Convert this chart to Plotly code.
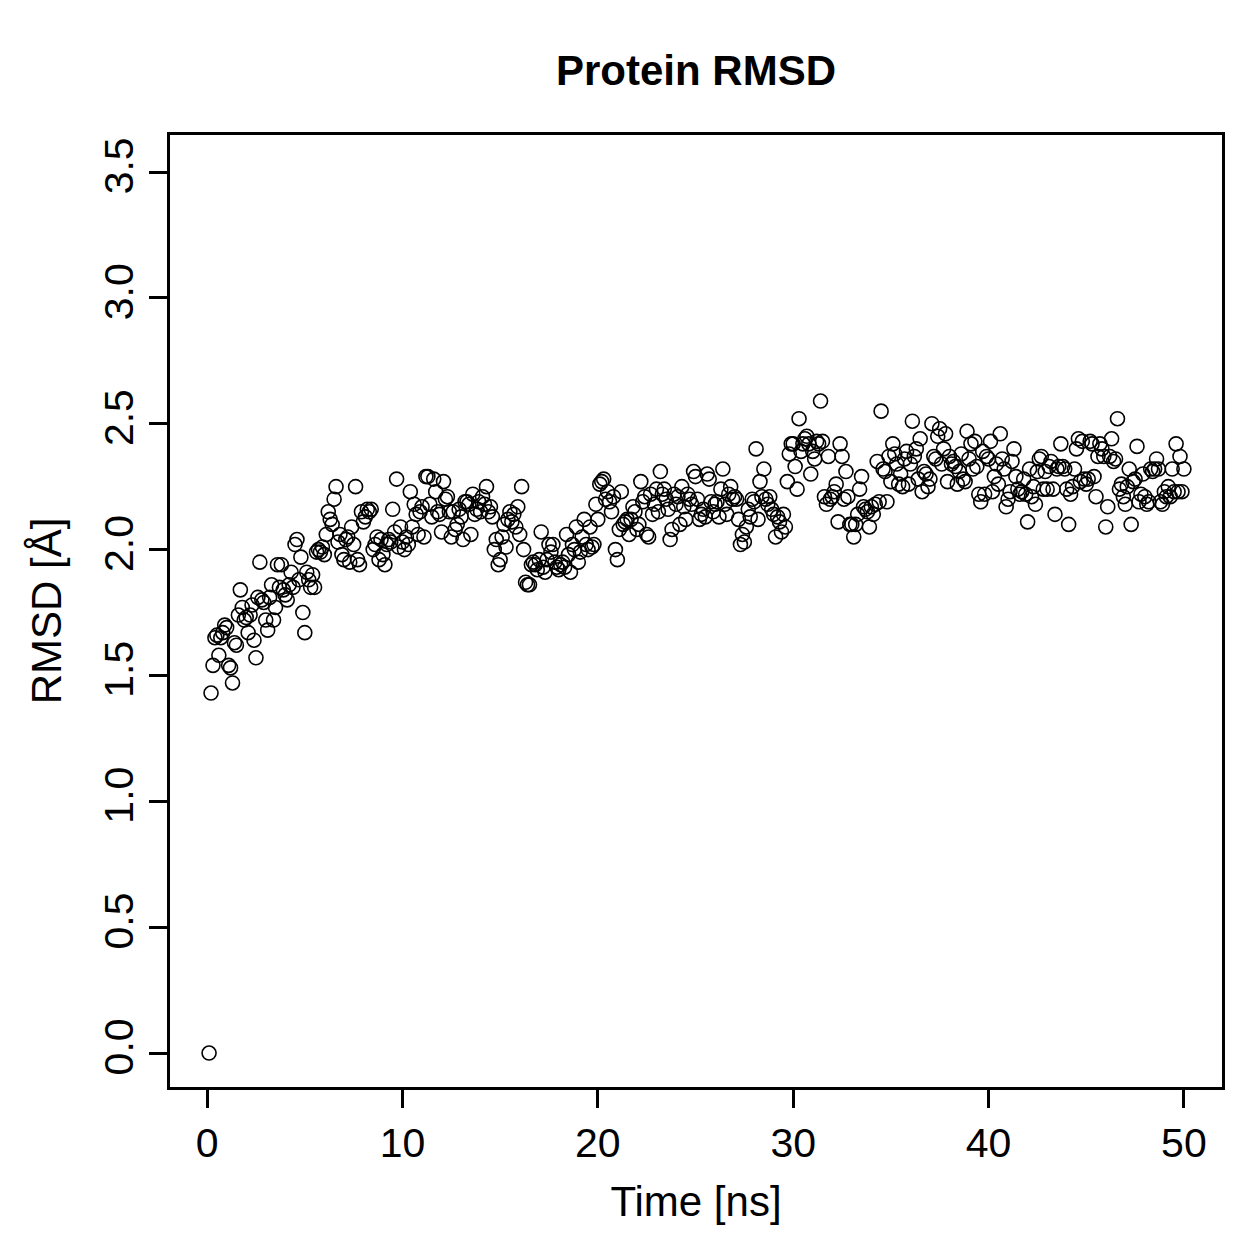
import plotly.graph_objects as go

# RMSD values read per ns block (10 samples per ns, 0.1 ns spacing)
rmsd = [
    0.00, 1.43, 1.54, 1.65, 1.66, 1.58, 1.65, 1.67, 1.70, 1.69,
    1.54, 1.53, 1.47, 1.63, 1.62, 1.74, 1.84, 1.77, 1.72, 1.73,
    1.67, 1.74, 1.78, 1.64, 1.57, 1.81, 1.95, 1.80, 1.79, 1.72,
    1.68, 1.81, 1.86, 1.72, 1.77, 1.94, 1.85, 1.94, 1.84, 1.82,
    1.80, 1.86, 1.91, 1.85, 2.02, 2.04, 1.88, 1.97, 1.75, 1.67,
    1.91, 1.88, 1.85, 1.90, 1.85, 1.99, 2.00, 1.99, 2.01, 1.98,
    2.06, 2.15, 2.12, 2.10, 2.20, 2.25, 2.03, 2.06, 1.98, 1.96,
    2.04, 2.05, 1.95, 2.09, 2.02, 2.25, 1.96, 1.94, 2.15, 2.11,
    2.13, 2.16, 2.15, 2.16, 2.00, 2.02, 2.05, 1.96, 2.04, 1.98,
    1.94, 2.02, 2.04, 2.03, 2.16, 2.07, 2.28, 2.01, 2.09, 2.03,
    2.00, 2.05, 2.02, 2.23, 2.09, 2.18, 2.14, 2.06, 2.15, 2.17,
    2.05, 2.29, 2.29, 2.18, 2.13, 2.28, 2.23, 2.15, 2.14, 2.07,
    2.27, 2.20, 2.21, 2.15, 2.05, 2.15, 2.08, 2.10, 2.16, 2.13,
    2.04, 2.19, 2.19, 2.18, 2.06, 2.22, 2.14, 2.16, 2.19, 2.15,
    2.21, 2.18, 2.25, 2.15, 2.17, 2.13, 2.00, 2.04, 1.94, 1.96,
    2.05, 2.10, 2.01, 2.12, 2.15, 2.11, 2.14, 2.09, 2.17, 2.06,
    2.25, 2.00, 1.87, 1.86, 1.86, 1.94, 1.95, 1.94, 1.92, 1.96,
    2.07, 1.93, 1.91, 1.96, 2.02, 1.99, 2.02, 1.95, 1.93, 1.92,
    1.94, 1.95, 1.93, 2.06, 1.98, 1.91, 2.02, 2.00, 2.09, 1.95,
    1.99, 2.05, 2.12, 2.02, 2.00, 2.09, 2.01, 2.02, 2.18, 2.12,
    2.26, 2.27, 2.28, 2.20, 2.23, 2.19, 2.15, 2.21, 2.00, 1.96,
    2.08, 2.23, 2.10, 2.11, 2.12, 2.06, 2.12, 2.17, 2.15, 2.08,
    2.10, 2.27, 2.19, 2.21, 2.06, 2.05, 2.22, 2.14, 2.18, 2.24,
    2.15, 2.31, 2.22, 2.24, 2.20, 2.16, 2.04, 2.08, 2.22, 2.18,
    2.21, 2.10, 2.25, 2.17, 2.12, 2.22, 2.20, 2.18, 2.31, 2.29,
    2.20, 2.12, 2.14, 2.16, 2.13, 2.30, 2.28, 2.19, 2.15, 2.18,
    2.19, 2.13, 2.24, 2.32, 2.18, 2.14, 2.22, 2.25, 2.20, 2.21,
    2.20, 2.12, 2.02, 2.06, 2.03, 2.09, 2.16, 2.13, 2.20, 2.19,
    2.40, 2.12, 2.27, 2.21, 2.32, 2.20, 2.18, 2.21, 2.16, 2.14,
    2.05, 2.13, 2.11, 2.07, 2.14, 2.09, 2.27, 2.38, 2.42, 2.42,
    2.33, 2.24, 2.52, 2.39, 2.42, 2.44, 2.45, 2.42, 2.30, 2.39,
    2.36, 2.43, 2.42, 2.59, 2.43, 2.21, 2.18, 2.37, 2.20, 2.21,
    2.23, 2.26, 2.11, 2.42, 2.37, 2.20, 2.31, 2.21, 2.10, 2.10,
    2.05, 2.10, 2.14, 2.24, 2.29, 2.17, 2.16, 2.15, 2.09, 2.17,
    2.14, 2.18, 2.35, 2.19, 2.55, 2.32, 2.31, 2.19, 2.37, 2.27,
    2.42, 2.38, 2.34, 2.26, 2.30, 2.25, 2.36, 2.39, 2.26, 2.34,
    2.51, 2.37, 2.40, 2.28, 2.44, 2.23, 2.31, 2.30, 2.25, 2.28,
    2.50, 2.37, 2.36, 2.45, 2.48, 2.34, 2.40, 2.46, 2.27, 2.37,
    2.34, 2.35, 2.33, 2.26, 2.31, 2.38, 2.28, 2.27, 2.47, 2.36,
    2.42, 2.32, 2.43, 2.33, 2.22, 2.19, 2.39, 2.22, 2.37, 2.36,
    2.43, 2.23, 2.29, 2.34, 2.26, 2.46, 2.36, 2.32, 2.17, 2.20,
    2.23, 2.35, 2.40, 2.29, 2.24, 2.22, 2.23, 2.28, 2.22, 2.11,
    2.32, 2.21, 2.25, 2.18, 2.31, 2.36, 2.37, 2.24, 2.31, 2.24,
    2.33, 2.35, 2.24, 2.14, 2.32, 2.33, 2.42, 2.33, 2.32, 2.24,
    2.10, 2.22, 2.25, 2.32, 2.40, 2.44, 2.27, 2.43, 2.28, 2.26,
    2.28, 2.43, 2.42, 2.29, 2.21, 2.37, 2.42, 2.40, 2.37, 2.09,
    2.17, 2.37, 2.44, 2.35, 2.36, 2.52, 2.24, 2.26, 2.21, 2.18,
    2.25, 2.32, 2.10, 2.27, 2.28, 2.41, 2.19, 2.22, 2.30, 2.21,
    2.18, 2.19, 2.32, 2.31, 2.32, 2.36, 2.32, 2.19, 2.18, 2.23,
    2.21, 2.25, 2.21, 2.32, 2.23, 2.42, 2.23, 2.37, 2.23, 2.32,
]
time_step_ns = 0.1
time_ns = [round((i + 1) * time_step_ns, 1) for i in range(len(rmsd))]

x_ticks = [0, 10, 20, 30, 40, 50]
y_ticks = [0.0, 0.5, 1.0, 1.5, 2.0, 2.5, 3.0, 3.5]
y_tick_labels = ["0.0", "0.5", "1.0", "1.5", "2.0", "2.5", "3.0", "3.5"]

FONT = "Liberation Sans, Arial, Helvetica, sans-serif"

fig = go.Figure(go.Scatter(
    x=time_ns, y=rmsd, mode="markers",
    marker=dict(symbol="circle-open", size=14, color="black",
                line=dict(color="black", width=1.6)),
    showlegend=False,
))

fig.update_layout(
    width=1259, height=1259,
    margin=dict(l=170, r=37, t=135, b=172),
    paper_bgcolor="white", plot_bgcolor="white",
    font=dict(family=FONT, size=42, color="black"),
    title=dict(text="<b>Protein RMSD</b>", x=0.5, xanchor="center",
               xref="paper", y=1 - 70 / 1259, yanchor="middle",
               font=dict(family=FONT, size=42, color="black")),
)
fig.update_xaxes(
    range=[-1.9, 51.95], tickvals=x_ticks, ticktext=[str(v) for v in x_ticks],
    showgrid=False, zeroline=False, showline=True, mirror=True,
    linecolor="black", linewidth=2.5,
    ticks="outside", ticklen=18, tickwidth=2.5, tickcolor="black",
    tickfont=dict(size=41),
    title=dict(text="Time [ns]", font=dict(size=42), standoff=22),
)
fig.update_yaxes(
    range=[-0.135, 3.647], tickvals=y_ticks, ticktext=y_tick_labels,
    tickangle=-90,
    showgrid=False, zeroline=False, showline=True, mirror=True,
    linecolor="black", linewidth=2.5,
    ticks="outside", ticklen=18, tickwidth=2.5, tickcolor="black",
    tickfont=dict(size=41),
    title=dict(text="RMSD [Å]", font=dict(size=42), standoff=22),
)

fig.write_html("out.html")
